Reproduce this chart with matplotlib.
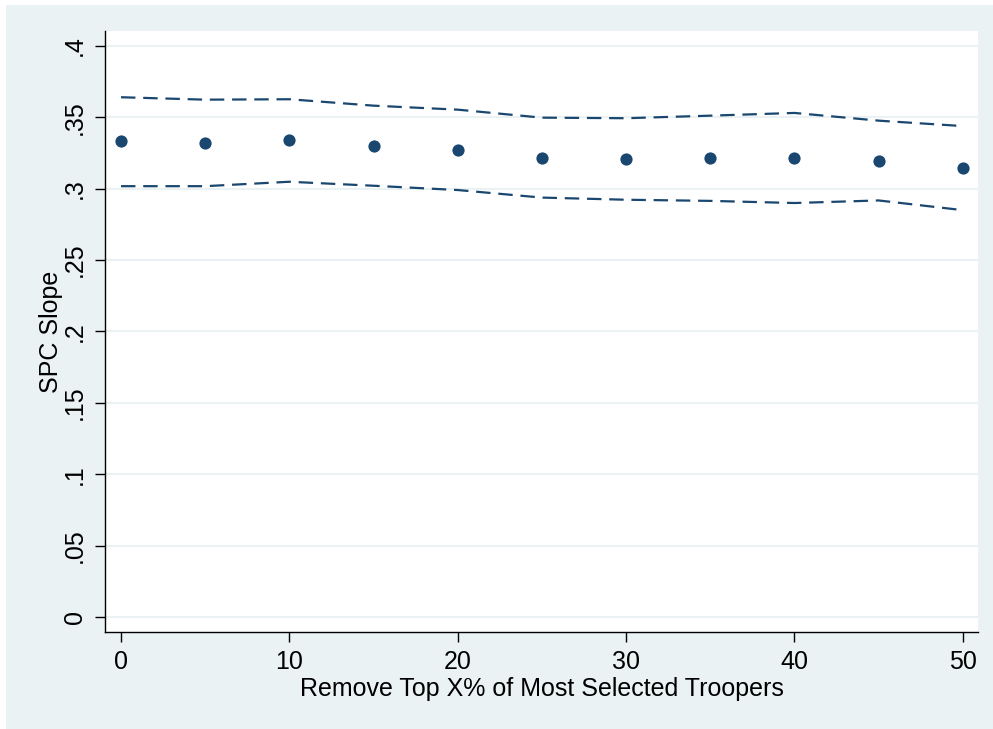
import matplotlib
matplotlib.use("Agg")
import matplotlib.pyplot as plt
from matplotlib.patches import Rectangle

pct_removed = [0, 5, 10, 15, 20, 25, 30, 35, 40, 45, 50]
slope = [0.3332, 0.3322, 0.3339, 0.3297, 0.3269, 0.3213, 0.3206, 0.3213, 0.3214, 0.3196, 0.3144]
ci_upper = [0.3641, 0.3624, 0.3627, 0.3582, 0.3554, 0.3498, 0.3494, 0.3512, 0.3531, 0.3477, 0.3439]
ci_lower = [0.3018, 0.3018, 0.3049, 0.3021, 0.2991, 0.2938, 0.2923, 0.2915, 0.2900, 0.2918, 0.2850]
yticks = [0, 0.05, 0.1, 0.15, 0.2, 0.25, 0.3, 0.35, 0.4]
ytick_labels = ["0", ".05", ".1", ".15", ".2", ".25", ".3", ".35", ".4"]
xticks = [0, 10, 20, 30, 40, 50]

plt.rcParams['font.family'] = ['Liberation Sans', 'DejaVu Sans']

W, H = 993, 729
fig = plt.figure(figsize=(W / 100, H / 100), dpi=100, facecolor='white')
bg = '#eaf2f3'
fig.patches.append(Rectangle((6 / W, 0), 1 - 6 / W, 1 - 5 / H, transform=fig.transFigure,
                             facecolor=bg, edgecolor='none', zorder=-10))

ax = fig.add_axes([105 / W, 1 - 632 / H, (978 - 105) / W, (632 - 31) / H])
ax.set_facecolor('white')
navy = '#1a476f'

ax.plot(pct_removed, ci_upper, color=navy, lw=1.6, dashes=(6.5, 3.5))
ax.plot(pct_removed, ci_lower, color=navy, lw=1.6, dashes=(6.5, 3.5))
ax.plot(pct_removed, slope, 'o', color=navy, markersize=8.8, markeredgewidth=0)

ax.set_xlim(-0.95, 50.9)
ax.set_ylim(-0.0105, 0.4105)
ax.set_yticks(yticks)
ax.set_yticklabels(ytick_labels, rotation=90, va='center')
ax.set_xticks(xticks)
ax.grid(axis='y', color=bg, lw=1.5)
ax.set_axisbelow(True)
for s in ['top', 'right']:
    ax.spines[s].set_visible(False)
for s in ['left', 'bottom']:
    ax.spines[s].set_color('black')
    ax.spines[s].set_linewidth(1.0)
ax.tick_params(axis='both', direction='out', length=7, width=1.0, labelsize=18, colors='black')
ax.tick_params(axis='y', pad=6)
ax.tick_params(axis='x', pad=6)
ax.set_xlabel("Remove Top X% of Most Selected Troopers", fontsize=18, labelpad=2)
ax.set_ylabel("SPC Slope", fontsize=18, labelpad=0)

fig.savefig("out.png", dpi=100, facecolor=fig.get_facecolor())
